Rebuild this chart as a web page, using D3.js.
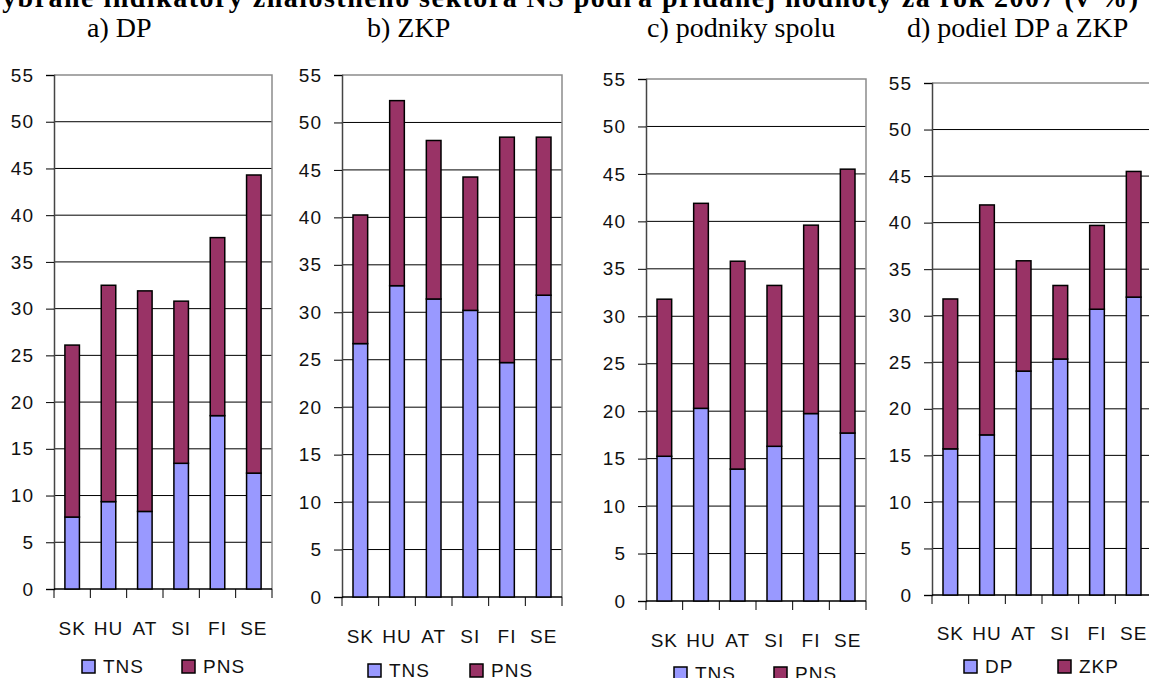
<!DOCTYPE html>
<html>
<head>
<meta charset="utf-8">
<script src="https://cdn.jsdelivr.net/npm/d3@7"></script>
<style>
  body { margin: 0; background: #fff; }
  svg { display: block; }
</style>
</head>
<body>
<div id="chart"></div>
<script>

// data (v %)
var countries = ["SK", "HU", "AT", "SI", "FI", "SE"];
var yTicks = [0, 5, 10, 15, 20, 25, 30, 35, 40, 45, 50, 55];

var dpTNS = [7.7, 9.35, 8.3, 13.45, 18.55, 12.4];
var dpPNS = [18.4, 23.15, 23.6, 17.35, 19.05, 31.9];

var zkpTNS = [26.7, 32.8, 31.4, 30.2, 24.7, 31.8];
var zkpPNS = [13.55, 19.5, 16.7, 14.05, 23.75, 16.65];

var spoluTNS = [15.25, 20.3, 13.9, 16.3, 19.75, 17.7];
var spoluPNS = [16.55, 21.6, 21.9, 16.95, 19.85, 27.8];

var podielDP = [15.7, 17.2, 24.05, 25.35, 30.7, 32.0];
var podielZKP = [16.1, 24.7, 11.85, 7.9, 9.0, 13.5];

var mainTitle = "Vybrané indikátory  znalostného sektora NS podľa pridanej hodnoty za rok 2007  (v %)";

var colLow = "#9999ff",
    colHigh = "#993366";

var axisFont = "'Liberation Sans Narrow', 'Arial Narrow', 'Liberation Sans', Arial, sans-serif";

var W = 1149, H = 678;

var svg = d3.select("#chart")
  .append("svg")
    .attr("width", W)
    .attr("height", H);

// title, top is cut off in the original
svg.append("text")
    .attr("x", -17)
    .attr("y", 7)
    .attr("textLength", 1155)
    .attr("lengthAdjust", "spacing")
    .style("font-family", "'Liberation Serif', 'Times New Roman', serif")
    .style("font-weight", "bold")
    .style("font-size", "28px")
    .text(mainTitle);

// panels
var panels = [
  {title: "a) DP", tx: 87, low: dpTNS, high: dpPNS, names: ["TNS", "PNS"],
   left: 54, right: 272, top: 75, zero: 589, labY: 635, legY: 673, legX: [82, 182]},
  {title: "b) ZKP", tx: 367, low: zkpTNS, high: zkpPNS, names: ["TNS", "PNS"],
   left: 342, right: 562, top: 75, zero: 597, labY: 643, legY: 677, legX: [368, 470]},
  {title: "c) podniky spolu", tx: 647, low: spoluTNS, high: spoluPNS, names: ["TNS", "PNS"],
   left: 646, right: 866, top: 79, zero: 601, labY: 647, legY: 680, legX: [674, 774]},
  {title: "d) podiel DP a ZKP", tx: 907, low: podielDP, high: podielZKP, names: ["DP", "ZKP"],
   left: 932, right: 1152, top: 83, zero: 595, labY: 640, legY: 673, legX: [964, 1058]}
];

panels.forEach(function(p) { drawPanel(p); });

function drawPanel(p) {
  var g = svg.append("g");

  var x = d3.scaleBand()
    .domain(countries)
    .range([p.left, p.right])
    .paddingInner(0.6)
    .paddingOuter(0.3);

  var y = d3.scaleLinear()
    .domain([0, 55])
    .range([p.zero, p.top]);

  var step = x.step();

  // sub title
  svg.append("text")
      .attr("x", p.tx)
      .attr("y", 37)
      .style("font-family", "'Liberation Serif', 'Times New Roman', serif")
      .style("font-size", "28px")
      .text(p.title);

  // grid lines
  g.selectAll("line.grid")
    .data(yTicks.filter(function(d) { return d > 0 && d < 55; }))
    .enter()
    .append("line")
      .attr("x1", p.left)
      .attr("x2", p.right)
      .attr("y1", function(d) { return y(d); })
      .attr("y2", function(d) { return y(d); })
      .attr("stroke", "#000")
      .attr("stroke-width", 1);

  // gray frame top and right
  g.append("path")
      .attr("d", "M" + p.left + "," + y(55) + "H" + p.right + "V" + p.zero)
      .attr("fill", "none")
      .attr("stroke", "#8c8c8c")
      .attr("stroke-width", 1.5);

  // Y axis
  var yAxis = g.append("g")
      .attr("transform", "translate(" + p.left + ",0)")
      .call(d3.axisLeft(y).tickValues(yTicks).tickSize(8).tickPadding(12));
  yAxis.select(".domain").attr("stroke", "#444").attr("stroke-width", 1.5);
  yAxis.selectAll(".tick line").attr("stroke", "#000");
  yAxis.selectAll(".tick text")
      .style("font-family", axisFont)
      .style("font-size", "19px")
      .style("letter-spacing", "1px")
      .attr("fill", "#111");

  // X axis, ticks on category borders
  g.append("line")
      .attr("x1", p.left)
      .attr("x2", p.right)
      .attr("y1", p.zero)
      .attr("y2", p.zero)
      .attr("stroke", "#000")
      .attr("stroke-width", 1.5);
  g.selectAll("line.xtick")
    .data(d3.range(countries.length + 1))
    .enter()
    .append("line")
      .attr("x1", function(i) { return x(countries[0]) - step * 0.3 + i * step; })
      .attr("x2", function(i) { return x(countries[0]) - step * 0.3 + i * step; })
      .attr("y1", p.zero)
      .attr("y2", p.zero + 9)
      .attr("stroke", "#000");
  g.selectAll("text.cat")
    .data(countries)
    .enter()
    .append("text")
      .attr("x", function(d) { return x(d) + x.bandwidth() / 2; })
      .attr("y", p.labY)
      .attr("text-anchor", "middle")
      .style("font-family", axisFont)
      .style("font-size", "19px")
      .style("letter-spacing", "1px")
      .attr("fill", "#111")
      .text(function(d) { return d; });

  // stacked bars
  var rows = countries.map(function(c, i) {
    return {c: c, a: p.low[i], b: p.high[i]};
  });

  g.selectAll("rect.low")
    .data(rows)
    .enter()
    .append("rect")
      .attr("x", function(d) { return x(d.c); })
      .attr("y", function(d) { return y(d.a); })
      .attr("width", x.bandwidth())
      .attr("height", function(d) { return y(0) - y(d.a); })
      .attr("fill", colLow)
      .attr("stroke", "#000")
      .attr("stroke-width", 1.5);

  g.selectAll("rect.high")
    .data(rows)
    .enter()
    .append("rect")
      .attr("x", function(d) { return x(d.c); })
      .attr("y", function(d) { return y(d.a + d.b); })
      .attr("width", x.bandwidth())
      .attr("height", function(d) { return y(d.a) - y(d.a + d.b); })
      .attr("fill", colHigh)
      .attr("stroke", "#000")
      .attr("stroke-width", 1.5);

  // legend
  var cols = [colLow, colHigh];
  p.names.forEach(function(n, i) {
    g.append("rect")
        .attr("x", p.legX[i])
        .attr("y", p.legY - 13)
        .attr("width", 13)
        .attr("height", 13)
        .attr("fill", cols[i])
        .attr("stroke", "#000")
        .attr("stroke-width", 1.5);
    g.append("text")
        .attr("x", p.legX[i] + 21)
        .attr("y", p.legY)
        .style("font-family", axisFont)
        .style("font-size", "19px")
        .style("letter-spacing", "1px")
        .attr("fill", "#111")
        .text(n);
  });
}

</script>
</body>
</html>
